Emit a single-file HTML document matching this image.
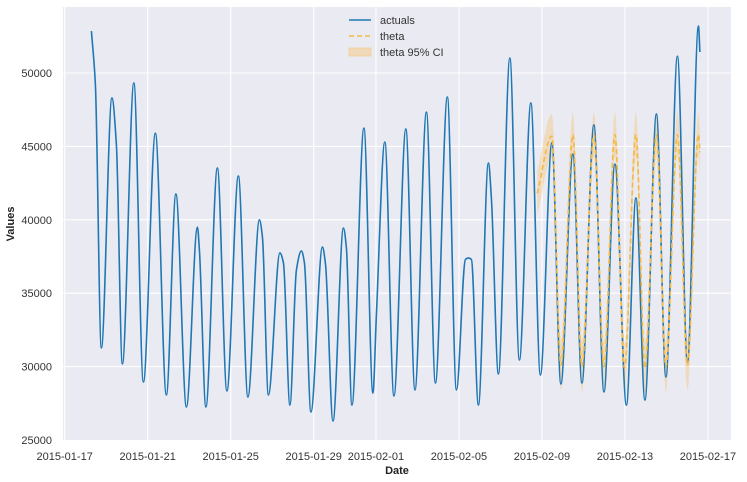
<!DOCTYPE html>
<html><head><meta charset="utf-8">
<style>
body{margin:0;background:#fff;}
svg{display:block;font-family:"Liberation Sans",sans-serif;}
</style></head>
<body>
<svg id="chart" width="747" height="482" viewBox="0 0 747 482" xmlns="http://www.w3.org/2000/svg">
<rect x="63" y="7" width="668" height="433" fill="#eaeaf2"/>
<g id="grid"></g>
<g id="ticks"></g>
<g id="series"></g>
<text x="397" y="474" text-anchor="middle" font-size="11" font-weight="bold" fill="#222">Date</text>
<text transform="translate(14,224) rotate(-90)" text-anchor="middle" font-size="11" font-weight="bold" fill="#222">Values</text>
<g>
<line x1="349" y1="20" x2="371" y2="20" stroke="#1f77b4" stroke-width="1.6"/>
<text x="380" y="24" font-size="11" fill="#333">actuals</text>
<line x1="349" y1="36" x2="371" y2="36" stroke="#f5b942" stroke-width="1.6" stroke-dasharray="5,3"/>
<text x="380" y="40" font-size="11" fill="#333">theta</text>
<rect x="349" y="48" width="22" height="8" fill="#f5c77e" fill-opacity="0.5" stroke="#f5c77e" stroke-opacity="0.6"/>
<text x="380" y="56" font-size="11" fill="#333">theta 95% CI</text>
</g>
</svg>
<script>
// hours since 2015-01-17 00:00
const actualHours = [30.9,35.5,42.4,54.6,59.8,66.7,80.0,91.0,104.9,117.6,128.6,140.8,153.5,155.8,163.3,176.6,187.6,200.9,211.9,225.2,228.7,235.6,248.9,253.0,260.5,268.0,273.8,277.3,284.8,298.1,301.6,310.3,322.4,325.8,332.2,346.1,356.5,360.5,370.3,380.8,394.6,405.1,418.4,428.8,442.6,453.1,463.5,467.0,470.4,478.5,490.1,493.5,501.6,514.9,525.9,539.2,550.2,563.5,573.9,587.8,598.2,612.1,623.7,636.4,649.7,660.7,671.1,684.4,695.4,708.7,720.3,733.0,734.7];
const actualValues = [52860,49200,31270,48300,45100,30180,49320,28950,45900,28070,41760,27250,39500,37940,27250,43530,28340,42990,27930,40000,38830,28070,37740,37060,27380,36580,37880,37060,26910,38150,37000,26290,39440,38100,27380,46250,28200,33500,45300,28000,46190,28410,47340,28880,48370,28410,37300,37400,37300,27380,43870,41490,29500,51020,30450,47960,29430,45230,28820,44480,28880,46460,28270,43800,27380,41490,27720,47210,29290,51150,30310,53200,51430];
const thetaHours = [546.6,563.5,573.9,587.8,598.2,612.1,623.7,636.4,647.5,660.7,671.1,684.4,695.4,708.7,720.3,733.0,734.7];
const thetaValues = [41800,45700,30100,45800,30000,45800,30000,45800,29900,45800,29900,45800,30000,45800,30100,45800,44600];
const ciHalfWidth = [1500,1500,1700,1500,1700,1500,1700,1500,1700,1500,1700,1500,1700,1500,1700,1500,1500];
const yTicks = [25000,30000,35000,40000,45000,50000];
const xTickLabels = ["2015-01-17","2015-01-21","2015-01-25","2015-01-29","2015-02-01","2015-02-05","2015-02-09","2015-02-13","2015-02-17"];
const xTickDays = [0,4,8,12,15,19,23,27,31];

const NS="http://www.w3.org/2000/svg";
const X0=64.7, PX_PER_DAY=20.75, Y0=440, PX_PER_UNIT=73.4/5000;
function xScale(h){return X0+h/24*PX_PER_DAY;}
function yScale(v){return Y0-(v-25000)*PX_PER_UNIT;}
function mk(tag,attrs,parent){const e=document.createElementNS(NS,tag);for(const k in attrs)e.setAttribute(k,attrs[k]);parent.appendChild(e);return e;}
// monotone cubic (Fritsch-Carlson) path, no overshoot
function monoPath(pts, cont){
  const n=pts.length, dx=[], s=[], m=[];
  for(let i=0;i<n-1;i++){dx[i]=pts[i+1][0]-pts[i][0];s[i]=(pts[i+1][1]-pts[i][1])/dx[i];}
  m[0]=s[0]; m[n-1]=s[n-2];
  for(let i=1;i<n-1;i++){
    if(s[i-1]*s[i]<=0) m[i]=0;
    else {const w1=2*dx[i]+dx[i-1], w2=dx[i]+2*dx[i-1]; m[i]=(w1+w2)/(w1/s[i-1]+w2/s[i]);}
  }
  let d=(cont?" L":"M")+pts[0][0].toFixed(2)+","+pts[0][1].toFixed(2);
  for(let i=0;i<n-1;i++){
    const h=dx[i]/3;
    d+=" C"+(pts[i][0]+h).toFixed(2)+","+(pts[i][1]+m[i]*h).toFixed(2)+" "+(pts[i+1][0]-h).toFixed(2)+","+(pts[i+1][1]-m[i+1]*h).toFixed(2)+" "+pts[i+1][0].toFixed(2)+","+pts[i+1][1].toFixed(2);
  }
  return d;
}
function revPath(pts){
  // draw reversed by mirroring x, then map back
  const mir=pts.map(p=>[-p[0],p[1]]).reverse();
  return monoPath(mir,true).replace(/(-?[\d.]+),(-?[\d.]+)/g,(a,x,y)=>(-parseFloat(x)).toFixed(2)+","+y);
}
const grid=document.getElementById('grid'), ticks=document.getElementById('ticks'), series=document.getElementById('series');
yTicks.forEach(v=>{
  const y=yScale(v);
  if(v>25000){const l=mk('line',{x1:63,x2:731,y1:y,y2:y,stroke:'#fff','stroke-width':1.1},grid);
  
  }
  const t=mk('text',{x:52,y:y+4,'text-anchor':'end','font-size':11,fill:'#333'},ticks);
  t.textContent=v;
  
  
});
xTickDays.forEach((d,i)=>{
  const x=xScale(d*24);
  const l=mk('line',{x1:x,x2:x,y1:7,y2:440,stroke:'#fff','stroke-width':1.1},grid);
  
  
  const t=mk('text',{x:x,y:460,'text-anchor':'middle','font-size':11,fill:'#333'},ticks);
  t.textContent=xTickLabels[i];
  
  
});
const up=thetaHours.map((h,i)=>[xScale(h),yScale(thetaValues[i]+ciHalfWidth[i])]);
const lo=thetaHours.map((h,i)=>[xScale(h),yScale(thetaValues[i]-ciHalfWidth[i])]);
const band=mk('path',{d:monoPath(up,false)+revPath(lo)+' Z',fill:'#f5c77e','fill-opacity':0.45,stroke:'none'},series);


const act=mk('path',{d:monoPath(actualHours.map((h,i)=>[xScale(h),yScale(actualValues[i])]),false),fill:'none',stroke:'#1f77b4','stroke-width':1.6},series);


const th=mk('path',{d:monoPath(thetaHours.map((h,i)=>[xScale(h),yScale(thetaValues[i])]),false),fill:'none',stroke:'#f5b942','stroke-width':1.6,'stroke-dasharray':'5,3'},series);


</script>
</body></html>
